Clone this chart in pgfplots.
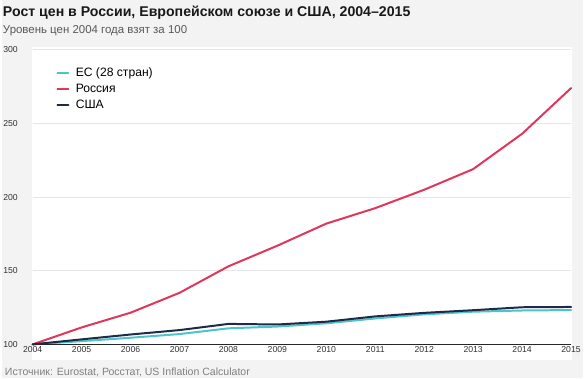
\documentclass[border=0pt]{standalone}
\usepackage{pgfplots}
\pgfplotsset{compat=1.18}
\usepackage{fontspec}
\setmainfont{Liberation Sans}
\definecolor{bgc}{HTML}{F3F3F3}
\definecolor{eu}{HTML}{4CC4C9}
\definecolor{ru}{HTML}{E0365C}
\definecolor{us}{HTML}{1E2A48}
\definecolor{gridc}{HTML}{E6E6E6}
\definecolor{tickc}{HTML}{333333}
\begin{document}
\begin{tikzpicture}[x=1pt,y=1pt]
\fill[bgc] (0,0) rectangle (584,380);
\fill[white] (30,18) rectangle (573,333);
\node[anchor=base west, inner sep=0, font=\fontsize{14.2}{18}\selectfont\bfseries, text=black!90] at (1,363.5) {Рост цен в России, Европейском союзе и США, 2004–2015};
\node[anchor=base west, inner sep=0, font=\fontsize{11.5}{14}\selectfont, text=black!65] at (1,346.5) {Уровень цен 2004 года взят за 100};
\node[anchor=base west, inner sep=0, font=\fontsize{10.6}{12}\selectfont, text=black!50] at (3,3) {Источник: Eurostat, Росстат, US Inflation Calculator};
\begin{axis}[
  at={(31pt,34pt)}, anchor=south west,
  scale only axis, width=541pt, height=296pt,
  xmin=2004, xmax=2015, ymin=100, ymax=300,
  xtick={2004,...,2015}, ytick={100,150,200,250,300},
  xticklabel style={/pgf/number format/1000 sep=, font=\fontsize{8.7}{10}\selectfont, text=tickc, yshift=1pt},
  yticklabel style={anchor=west, xshift=-33pt, font=\fontsize{8.7}{10}\selectfont, text=tickc},
  /pgf/number format/assume math mode=true,
  axis line style={draw=none},
  major tick length=0pt,
  xmajorgrids=false, ymajorgrids=true,
  y grid style={gridc, line width=0.8pt},
  clip=false,
  legend cell align=left,
  legend style={draw=none, fill=none, at={(0.044,0.945)}, anchor=north west, font=\fontsize{12.2}{14}\selectfont, row sep=1.8pt, column sep=4.5pt, inner sep=0pt},
  legend image code/.code={\draw[#1, line width=1.8pt] (0pt,0pt) -- (11pt,0pt);},
  every axis plot/.append style={line width=2pt, line join=round, line cap=round},
]
\addplot[eu] coordinates {(2004,100) (2005,102.2) (2006,104.5) (2007,107.0) (2008,110.9) (2009,112.1) (2010,114.3) (2011,117.6) (2012,120.4) (2013,122.2) (2014,123.0) (2015,123.3)};
\addlegendentry{ЕС (28 стран)}
\addplot[ru] coordinates {(2004,100) (2005,111.5) (2006,121.5) (2007,135) (2008,153) (2009,167) (2010,182) (2011,192.5) (2012,205) (2013,219) (2014,243) (2015,274)};
\addlegendentry{Россия}
\addplot[us] coordinates {(2004,100) (2005,103.4) (2006,106.7) (2007,109.7) (2008,113.9) (2009,113.5) (2010,115.4) (2011,119.0) (2012,121.4) (2013,123.2) (2014,125.2) (2015,125.4)};
\addlegendentry{США}
\draw[black!85, line width=1pt] (axis cs:2004,100) -- (axis cs:2015,100);
\end{axis}
\end{tikzpicture}
\end{document}
